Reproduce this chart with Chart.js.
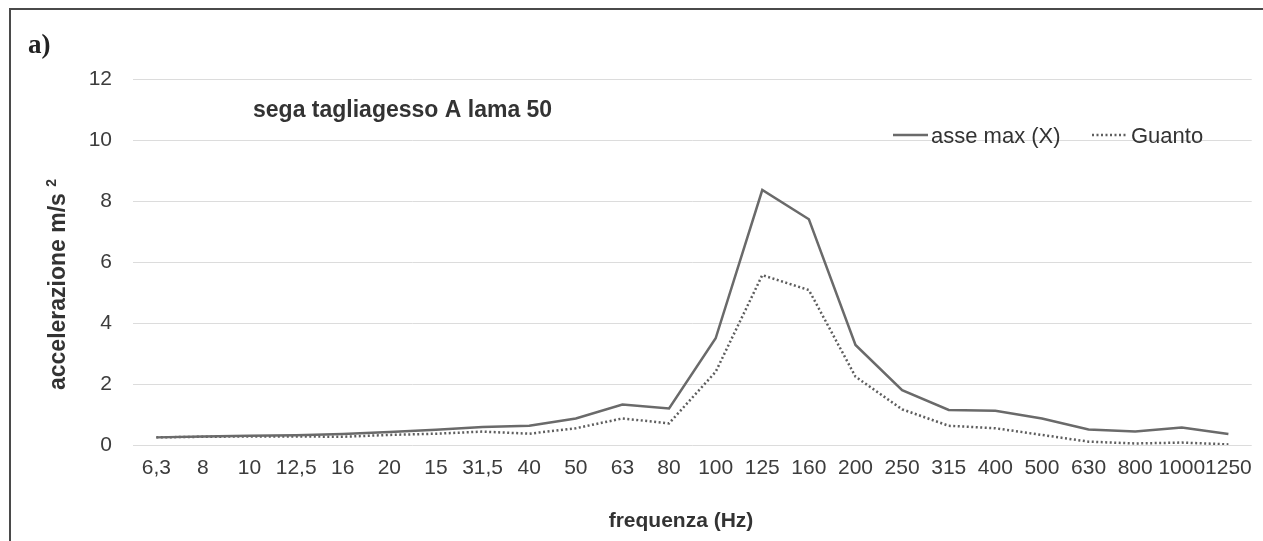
<!DOCTYPE html>
<html><head><meta charset="utf-8">
<script src="https://cdn.jsdelivr.net/npm/chart.js@4/dist/chart.umd.min.js"></script>
<style>html,body{margin:0;padding:0;background:#fff;} #wrap{position:relative;width:1263px;height:541px;background:#fff;}</style>
</head><body><div id="wrap"><canvas id="c" width="1263" height="541"></canvas></div>
<script>
const categories = ['6,3','8','10','12,5','16','20','15','31,5','40','50','63','80','100','125','160','200','250','315','400','500','630','800','1000','1250'];
const asseMaxX = [0.25,0.28,0.30,0.32,0.36,0.43,0.50,0.59,0.63,0.87,1.33,1.20,3.50,8.36,7.40,3.28,1.80,1.15,1.12,0.87,0.51,0.44,0.57,0.36];
const guanto   = [0.25,0.27,0.28,0.28,0.27,0.33,0.37,0.44,0.37,0.55,0.87,0.71,2.40,5.57,5.08,2.24,1.17,0.63,0.55,0.33,0.11,0.05,0.08,0.02];
const seriesNames = ['asse max (X)','Guanto'];
const yTicks = [0,2,4,6,8,10,12];
const chartTitle = 'sega tagliagesso A lama 50';
const panelLabel = 'a)';
const xTitle = 'frequenza (Hz)';
const yTitle = 'accelerazione m/s';
const yTitleSup = '2';

const FONT = '"Liberation Sans", Arial, sans-serif';
const lineColor = '#6a6a6a';
const dotColor = '#5e5e5e';

const deco = {
  id: 'deco',
  afterDraw(chart) {
    const ctx = chart.ctx;
    ctx.save();
    // frame
    ctx.strokeStyle = '#4a4a4a';
    ctx.lineWidth = 2;
    ctx.beginPath();
    ctx.moveTo(10, 541); ctx.lineTo(10, 9); ctx.lineTo(1263, 9);
    ctx.stroke();
    // panel label
    ctx.fillStyle = '#222';
    ctx.font = 'bold 27px "Liberation Serif", "Times New Roman", serif';
    ctx.textBaseline = 'alphabetic';
    ctx.textAlign = 'left';
    ctx.fillText(panelLabel, 28, 53);
    // title
    ctx.fillStyle = '#333';
    ctx.font = 'bold 23px ' + FONT;
    ctx.fillText(chartTitle, 253, 117);
    // legend
    ctx.font = '22px ' + FONT;
    ctx.fillStyle = '#333';
    const ly = 135;
    const ds = chart.data.datasets;
    const items = [{x0: 893, x1: 928, tx: 931, d: ds[0]}, {x0: 1092, x1: 1127, tx: 1131, d: ds[1]}];
    items.forEach(it => {
      ctx.save();
      ctx.strokeStyle = it.d.borderColor;
      ctx.lineWidth = it.d.borderWidth;
      ctx.setLineDash(it.d.borderDash || []);
      ctx.beginPath(); ctx.moveTo(it.x0, ly); ctx.lineTo(it.x1, ly); ctx.stroke();
      ctx.restore();
      ctx.fillText(it.d.label, it.tx, 143);
    });
    // x title
    ctx.font = 'bold 21px ' + FONT;
    ctx.textAlign = 'center';
    ctx.fillStyle = '#333';
    ctx.fillText(xTitle, 681, 527);
    // y title
    ctx.save();
    ctx.translate(65, 390);
    ctx.rotate(-Math.PI / 2);
    ctx.textAlign = 'left';
    ctx.font = 'bold 23px ' + FONT;
    ctx.fillText(yTitle, 0, 0);
    const w = ctx.measureText(yTitle + ' ').width;
    ctx.font = 'bold 14px ' + FONT;
    ctx.fillText(yTitleSup, w, -9);
    ctx.restore();
    ctx.restore();
  }
};

new Chart(document.getElementById('c'), {
  type: 'line',
  data: {
    labels: categories,
    datasets: [
      {label: seriesNames[0], data: asseMaxX, borderColor: lineColor, borderWidth: 2.5, pointRadius: 0, fill: false, tension: 0},
      {label: seriesNames[1], data: guanto, borderColor: dotColor, borderWidth: 2.5, borderDash: [2, 2.5], pointRadius: 0, fill: false, tension: 0}
    ]
  },
  options: {
    responsive: false,
    animation: false,
    devicePixelRatio: 1,
    layout: {padding: {left: 0, right: 11, top: 79, bottom: 0}},
    plugins: {legend: {display: false}, tooltip: {enabled: false}, title: {display: false}},
    scales: {
      x: {
        offset: true,
        grid: {display: false, drawTicks: false},
        border: {display: false},
        ticks: {font: {family: FONT, size: 21}, color: '#3c3c3c', padding: 11, maxRotation: 0, autoSkip: false},
        afterFit(s) { s.height = 96; }
      },
      y: {
        min: 0, max: 12,
        afterBuildTicks(s) { s.ticks = yTicks.map(v => ({value: v})); },
        grid: {color: '#dcdcdc', lineWidth: 1, drawTicks: false},
        border: {display: false},
        ticks: {font: {family: FONT, size: 21}, color: '#3c3c3c', padding: 21},
        afterFit(s) { s.width = 133; }
      }
    }
  },
  plugins: [deco]
});
</script></body></html>
